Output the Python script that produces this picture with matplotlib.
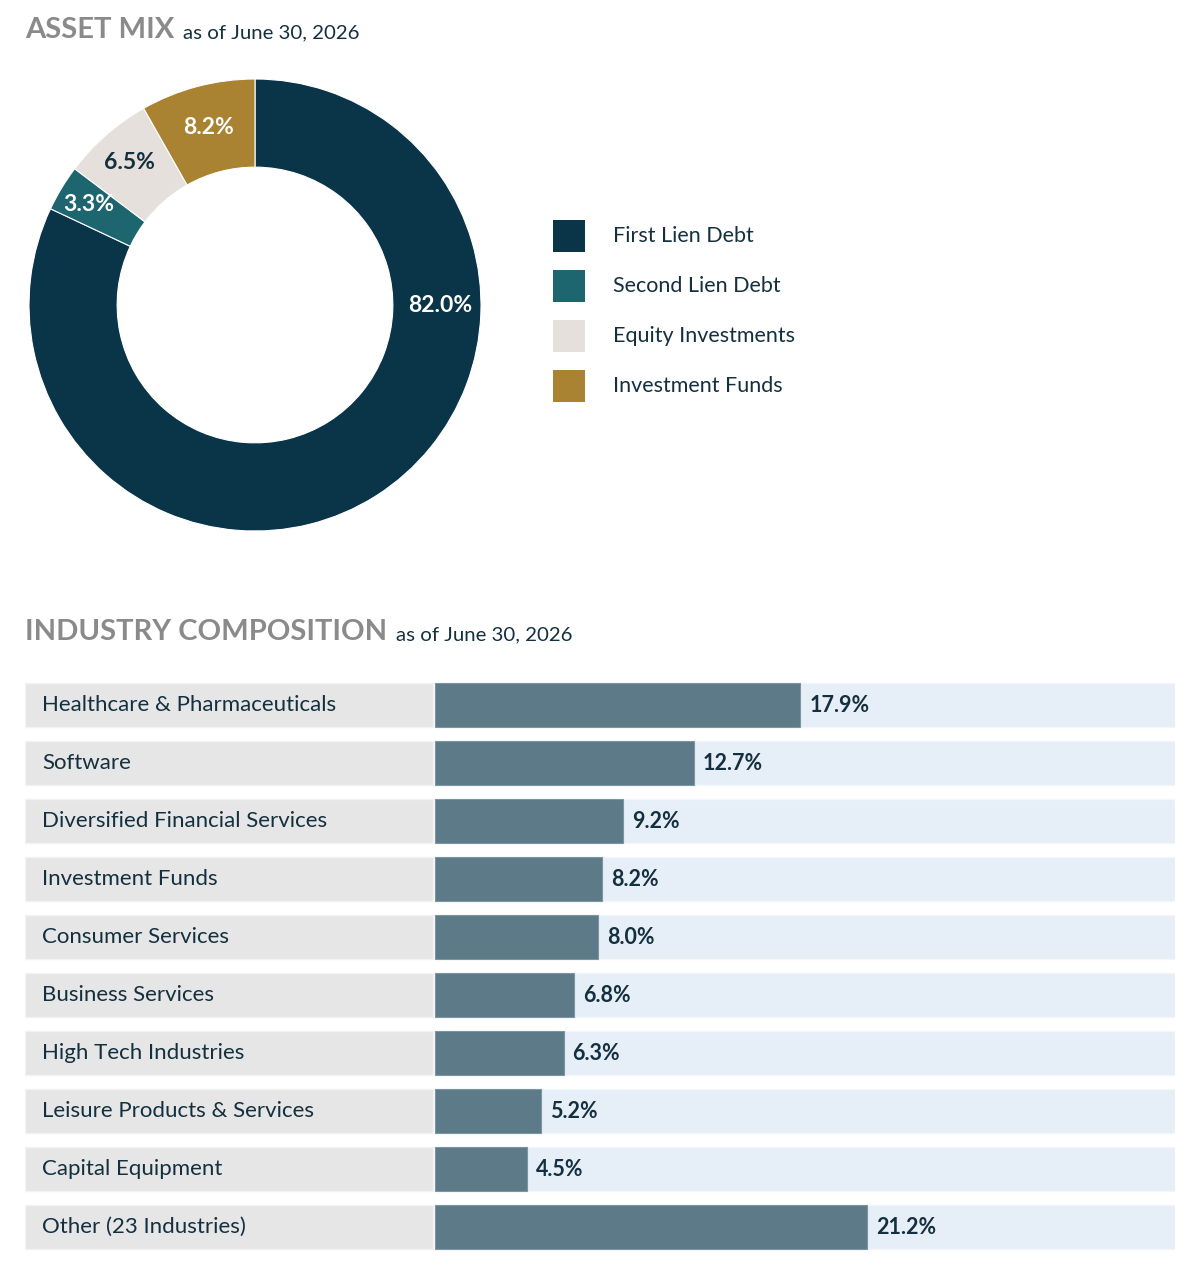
import matplotlib
matplotlib.use("Agg")
import matplotlib.pyplot as plt
from matplotlib.patches import Rectangle
import numpy as np

plt.rcParams['font.family'] = ['Lato', 'DejaVu Sans']

# ---- data ----
asset_labels = ["First Lien Debt", "Second Lien Debt", "Equity Investments", "Investment Funds"]
asset_values = [82.0, 3.3, 6.5, 8.2]
asset_colors = ["#0a3549", "#1d6670", "#e5e0dc", "#a98232"]
asset_text_colors = ["white", "white", "#14303f", "white"]

industries = ["Healthcare & Pharmaceuticals", "Software", "Diversified Financial Services",
              "Investment Funds", "Consumer Services", "Business Services",
              "High Tech Industries", "Leisure Products & Services", "Capital Equipment",
              "Other (23 Industries)"]
industry_values = [17.9, 12.7, 9.2, 8.2, 8.0, 6.8, 6.3, 5.2, 4.5, 21.2]

date_text = "as of June 30, 2026"

W, H = 1200, 1270
fig = plt.figure(figsize=(W / 100, H / 100), dpi=100)
fig.patch.set_facecolor("white")

DARK = "#14303f"
GRAY = "#8a8a8a"


def fx(px):
    return px / W


def fy(py):
    return 1 - py / H


# ---- headers ----
t1 = fig.text(fx(25), fy(38), "ASSET MIX", fontsize=21, fontweight="bold", color=GRAY, va="baseline")
fig.canvas.draw()
bb = t1.get_window_extent()
fig.text(bb.x1 / W + fx(9), fy(38), date_text, fontsize=14.7, color=DARK, va="baseline")

t2 = fig.text(fx(25), fy(640), "INDUSTRY COMPOSITION", fontsize=21, fontweight="bold", color=GRAY, va="baseline")
fig.canvas.draw()
bb2 = t2.get_window_extent()
fig.text(bb2.x1 / W + fx(9), fy(640), date_text, fontsize=14.7, color=DARK, va="baseline")

# ---- donut ----
cx, cy, R = 255, 305, 226
axp = fig.add_axes([fx(cx - R), fy(cy + R), fx(2 * R), 2 * R / H])
wedges, _ = axp.pie(asset_values, colors=asset_colors, startangle=90, counterclock=False,
                    radius=1.0, wedgeprops=dict(width=0.39, edgecolor="white", linewidth=0.8))
axp.set_xlim(-1, 1)
axp.set_ylim(-1, 1)
axp.set_aspect("equal")
axp.axis("off")

label_r = [0.82, 0.86, 0.84, 0.81]
for i, (w, v) in enumerate(zip(wedges, asset_values)):
    ang = np.deg2rad((w.theta1 + w.theta2) / 2)
    if i == 0:
        ang = 0.0
    r = label_r[i]
    axp.text(r * np.cos(ang), r * np.sin(ang), f"{v:.1f}%", ha="center", va="center",
             fontsize=16.5, fontweight="bold", color=asset_text_colors[i])

# ---- legend ----
for i, (lab, col) in enumerate(zip(asset_labels, asset_colors)):
    yc = 236 + 50 * i
    fig.patches.append(Rectangle((fx(553), fy(yc + 16)), fx(32), 32 / H, transform=fig.transFigure,
                                 facecolor=col, edgecolor="none"))
    fig.text(fx(613), fy(yc), lab, fontsize=15.5, color=DARK, va="center")

# ---- industry bars ----
x_left, x_zero, x_right = 25, 435, 1175
px_per_pct = 20.4
top, pitch = 676, 58
n = len(industries)
axb = fig.add_axes([fx(x_left), fy(top + pitch * n), fx(x_right - x_left), pitch * n / H])
xmin = -(x_zero - x_left) / px_per_pct
xmax = (x_right - x_zero) / px_per_pct
axb.set_xlim(xmin, xmax)
axb.set_ylim(n - 0.5, -0.5)
axb.axis("off")

y = np.arange(n)
h = 44 / pitch
axb.barh(y, -xmin - 0.1, left=xmin, height=h, color="#e6e6e6", edgecolor="#f3f3f3", linewidth=1)
axb.barh(y, xmax, left=0, height=h, color="#e6eef7", edgecolor="#f3f6fa", linewidth=1)
axb.barh(y, industry_values, left=0, height=h, color="#5d7a88", edgecolor="#7d95a0", linewidth=0.8)

for i, (name, v) in enumerate(zip(industries, industry_values)):
    axb.text(xmin + 17 / px_per_pct, i, name, fontsize=16, color=DARK, va="center", ha="left")
    axb.text(v + 9 / px_per_pct, i, f"{v:.1f}%", fontsize=15.5, fontweight="bold", color=DARK,
             va="center", ha="left")

fig.savefig("out.png", dpi=100, facecolor="white")
